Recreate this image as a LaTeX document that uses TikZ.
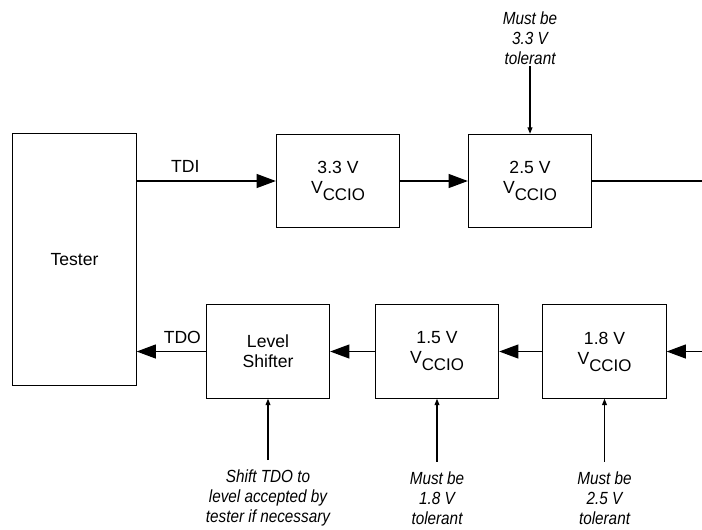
\documentclass[tikz,border=0pt]{standalone}
\usepackage{fontspec}
\setmainfont{Liberation Sans}
\newfontfamily\notefont[FakeStretch=0.87]{Liberation Sans}
\usetikzlibrary{arrows.meta}

\newcommand{\vccio}{V\raisebox{-5pt}{\fontsize{12}{12}\selectfont CCIO}}

\tikzset{
  blk/.style={draw, line width=0.8pt, minimum width=3.08cm, minimum height=2.33cm,
              align=center},
  note/.style={align=center, inner sep=1pt, font=\notefont\itshape\fontsize{12.5}{14.2}\selectfont},
  sig/.style={line width=0.8pt, -{Triangle[length=4.8mm,width=3.5mm]}},
  hint/.style={line width=0.8pt, -{Triangle[length=1.6mm,width=1.2mm]}},
}

\begin{document}
\begin{tikzpicture}[x=0.025cm, y=-0.025cm, font=\fontsize{12.5}{14.2}\selectfont]
\useasboundingbox (0,0) rectangle (702,529);

%% blocks
\node[blk, minimum height=6.28cm] (tester) at (74.5,259.5) {Tester};
\node[blk] (v33) at (338,181)   {3.3 V\\\vccio};
\node[blk] (v25) at (530,181)   {2.5 V\\\vccio};
\node[blk] (shift) at (268,351.5) {Level\\Shifter};
\node[blk] (v15) at (437,351.5) {1.5 V\\\vccio};
\node[blk] (v18) at (604.5,351.5) {1.8 V\\\vccio};

%% chain ends at the page edge
\coordinate (outR) at (702,181);
\coordinate (inR) at (702,351.5);

%% notes
\node[note] (n25) at (530,38)  {Must be\\3.3 V\\tolerant};
\node[note] (nsh) at (268,498) {Shift TDO to\\level accepted by\\tester if necessary};
\node[note] (n15) at (437,498) {Must be\\1.8 V\\tolerant};
\node[note] (n18) at (604.5,498) {Must be\\2.5 V\\tolerant};

%% signal path
\draw[sig] (tester.east |- v33.west) -- (v33.west) node[pos=0.35, above=2pt] {TDI};
\draw[sig] (v33) -- (v25);
\draw[line width=0.8pt] (v25) -- (outR);
\draw[sig] (inR) -- (v18);
\draw[sig] (v18) -- (v15);
\draw[sig] (v15) -- (shift);
\draw[sig] (shift.west) -- (tester.east |- shift.west) node[pos=0.34, above=2pt] {TDO};

%% note arrows
\draw[hint] (n25) -- (v25);
\draw[hint] (nsh.north) ++(0,-8) -- (shift.south);
\draw[hint] (n15.north) ++(0,-8) -- (v15.south);
\draw[hint] (n18.north) ++(0,-8) -- (v18.south);
\end{tikzpicture}
\end{document}
